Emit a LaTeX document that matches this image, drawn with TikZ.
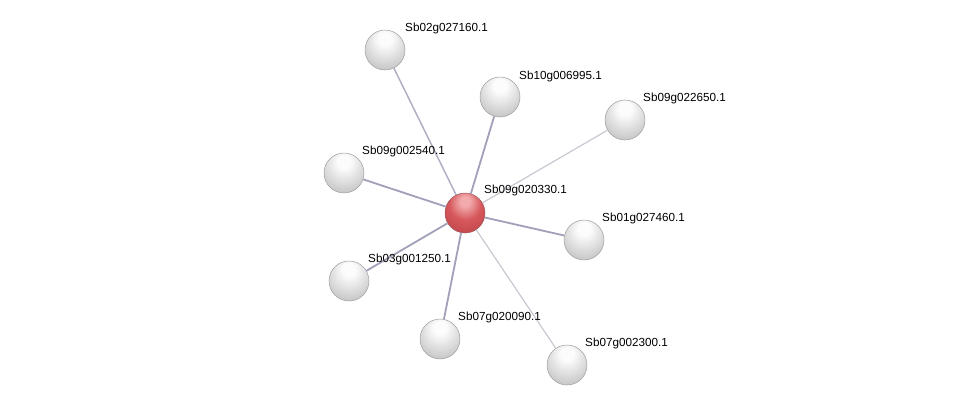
\documentclass[tikz,border=0pt]{standalone}
\usepackage{fontspec}
\setmainfont{Liberation Sans}
\usetikzlibrary{positioning, calc}
\definecolor{edgeDark}{RGB}{160, 160, 184}
\definecolor{edgeMid}{RGB}{176, 176, 196}
\definecolor{edgeLight}{RGB}{200, 200, 210}
\definecolor{ballTop}{RGB}{252, 252, 252}
\definecolor{ballBody}{RGB}{218, 218, 218}
\definecolor{ballLow}{RGB}{180, 180, 180}
\definecolor{ballRim}{RGB}{95, 95, 95}
\definecolor{hubTop}{RGB}{242, 170, 172}
\definecolor{hubBody}{RGB}{214, 88, 92}
\definecolor{hubLow}{RGB}{186, 62, 66}
\definecolor{hubRim}{RGB}{110, 22, 28}
\pgfdeclareradialshading{protball}{\pgfqpoint{0bp}{16bp}}{color(0bp)=(ballTop);
  color(8bp)=(ballTop); color(24bp)=(ballBody); color(42bp)=(ballLow);
  color(54bp)=(ballRim); color(70bp)=(ballRim)}
\pgfdeclareradialshading{hubball}{\pgfqpoint{0bp}{16bp}}{color(0bp)=(hubTop);
  color(6bp)=(hubTop); color(20bp)=(hubBody); color(42bp)=(hubLow);
  color(54bp)=(hubRim); color(70bp)=(hubRim)}

\begin{document}
\begin{tikzpicture}[x=1pt, y=-1pt,
          prot/.style={circle, minimum size=40pt, inner sep=0pt,
                       shading=protball, draw=ballRim!60, line width=0.5pt},
          hub/.style={prot, shading=hubball, draw=hubRim!70},
          lbl/.style={font=\fontsize{11.7}{14}\selectfont, anchor=west, inner sep=0pt},
          strong/.style={edgeDark, line width=1.8pt},
          medium/.style={edgeMid, line width=1.5pt},
          weak/.style={edgeLight, line width=1.2pt}
        ]
        \useasboundingbox (0,0) rectangle (976,410);

        % proteins
        \node[hub]  (p0)  at (465,213) {};
        \node[prot] (p1)  at (385, 50) {};
        \node[prot] (p2)  at (500, 97) {};
        \node[prot] (p3)  at (625,120) {};
        \node[prot] (p4)  at (344,173) {};
        \node[prot] (p5)  at (584,240) {};
        \node[prot] (p6)  at (349,281) {};
        \node[prot] (p7)  at (440,339) {};
        \node[prot] (p8)  at (567,365) {};

        % interactions
        \draw[medium] (p0) -- (p1);
        \draw[strong] (p0) -- (p2);
        \draw[weak]   (p0) -- (p3);
        \draw[strong] (p0) -- (p4);
        \draw[strong] (p0) -- (p5);
        \draw[strong] (p0) -- (p6);
        \draw[strong] (p0) -- (p7);
        \draw[weak]   (p0) -- (p8);

        % labels
        \node[lbl] (l0) at (484,190) {Sb09g020330.1};
        \node[lbl] (l1) at (405, 28) {Sb02g027160.1};
        \node[lbl] (l2) at (519, 76) {Sb10g006995.1};
        \node[lbl] (l3) at (643, 98) {Sb09g022650.1};
        \node[lbl] (l4) at (362,151) {Sb09g002540.1};
        \node[lbl] (l5) at (602,218) {Sb01g027460.1};
        \node[lbl] (l6) at (368,259) {Sb03g001250.1};
        \node[lbl] (l7) at (458,317) {Sb07g020090.1};
        \node[lbl] (l8) at (585,343) {Sb07g002300.1};
      \end{tikzpicture}
\end{document}
